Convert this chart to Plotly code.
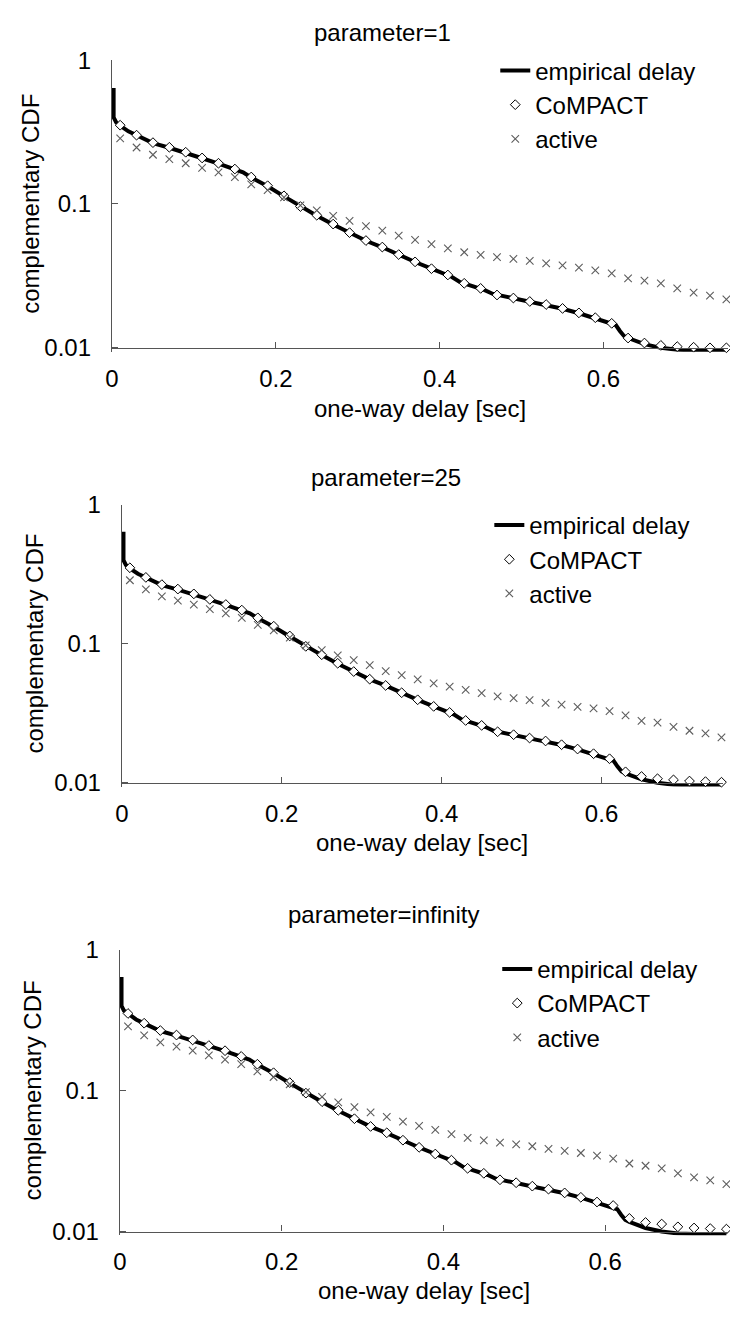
import math
import plotly.graph_objects as go

W, H = 730, 1325

# ---------------- data ----------------
panel_titles = ["parameter=1", "parameter=25", "parameter=infinity"]
series_names = ["empirical delay", "CoMPACT", "active"]
x_ticks = [0, 0.2, 0.4, 0.6]
x_tick_text = ["0", "0.2", "0.4", "0.6"]
y_ticks = [0.01, 0.1, 1]
y_tick_text = ["0.01", "0.1", "1"]

sample_x = [0.01, 0.03, 0.05, 0.07, 0.09, 0.11, 0.13, 0.15, 0.17, 0.19,
            0.21, 0.23, 0.25, 0.27, 0.29, 0.31, 0.33, 0.35, 0.37, 0.39,
            0.41, 0.43, 0.45, 0.47, 0.49, 0.51, 0.53, 0.55, 0.57, 0.59,
            0.61, 0.63, 0.65, 0.67, 0.69, 0.71, 0.73, 0.75]

compact_p1 = [0.353, 0.301, 0.267, 0.248, 0.229, 0.209, 0.192, 0.175, 0.154, 0.134,
              0.114, 0.096, 0.0835, 0.0725, 0.0632, 0.0557, 0.0502, 0.0445, 0.0396, 0.0355,
              0.0321, 0.0281, 0.0259, 0.0233, 0.0222, 0.0210, 0.0200, 0.0188, 0.0175, 0.0162,
              0.0148, 0.0117, 0.0108, 0.0104, 0.0102, 0.0101, 0.0100, 0.0100]
compact_p2 = [0.353, 0.301, 0.267, 0.248, 0.229, 0.209, 0.192, 0.175, 0.154, 0.134,
              0.114, 0.096, 0.0835, 0.0725, 0.0632, 0.0557, 0.0502, 0.0445, 0.0396, 0.0355,
              0.0321, 0.0281, 0.0259, 0.0233, 0.0222, 0.0210, 0.0200, 0.0188, 0.0175, 0.0162,
              0.0149, 0.0120, 0.0111, 0.0107, 0.0105, 0.0103, 0.0102, 0.0101]
compact_p3 = [0.353, 0.301, 0.267, 0.248, 0.229, 0.209, 0.192, 0.175, 0.154, 0.134,
              0.114, 0.096, 0.0835, 0.0725, 0.0632, 0.0557, 0.0502, 0.0445, 0.0396, 0.0355,
              0.0321, 0.0281, 0.0259, 0.0233, 0.0222, 0.0210, 0.0200, 0.0188, 0.0175, 0.0162,
              0.0153, 0.0124, 0.0116, 0.0113, 0.0108, 0.0106, 0.0105, 0.0104]

active_p1 = [0.286, 0.247, 0.220, 0.205, 0.192, 0.178, 0.166, 0.154, 0.137, 0.125,
             0.111, 0.0977, 0.0903, 0.0826, 0.0763, 0.0702, 0.0652, 0.0603, 0.0563, 0.0526,
             0.0491, 0.0462, 0.0443, 0.0427, 0.0416, 0.0403, 0.0386, 0.0374, 0.0361, 0.0346,
             0.0329, 0.0304, 0.0293, 0.0281, 0.0259, 0.0242, 0.0231, 0.0217]
active_p2 = [0.287, 0.247, 0.220, 0.205, 0.192, 0.178, 0.166, 0.154, 0.137, 0.125,
             0.111, 0.0977, 0.0903, 0.0826, 0.0763, 0.0702, 0.0636, 0.0596, 0.0555, 0.0520,
             0.0493, 0.0467, 0.0442, 0.0419, 0.0407, 0.0394, 0.0376, 0.0366, 0.0352, 0.0343,
             0.0328, 0.0306, 0.0279, 0.0271, 0.0253, 0.0237, 0.0227, 0.0212]
active_p3 = [0.286, 0.247, 0.220, 0.205, 0.192, 0.178, 0.166, 0.154, 0.137, 0.125,
             0.111, 0.0977, 0.0903, 0.0826, 0.0763, 0.0702, 0.0652, 0.0603, 0.0563, 0.0526,
             0.0491, 0.0462, 0.0443, 0.0427, 0.0416, 0.0403, 0.0386, 0.0374, 0.0361, 0.0346,
             0.0329, 0.0304, 0.0293, 0.0281, 0.0259, 0.0242, 0.0231, 0.0217]

emp_x = [0.002, 0.002, 0.005, 0.01, 0.02, 0.03, 0.05, 0.07, 0.09, 0.11,
         0.13, 0.15, 0.16, 0.17, 0.19, 0.21, 0.23, 0.25, 0.27, 0.29,
         0.31, 0.33, 0.35, 0.37, 0.39, 0.41, 0.415, 0.425, 0.43, 0.45,
         0.455, 0.465, 0.47, 0.49, 0.51, 0.53, 0.55, 0.57, 0.59, 0.61,
         0.615, 0.62, 0.625, 0.63, 0.65, 0.67, 0.69, 0.71, 0.73, 0.75]
emp_y = [0.64, 0.40, 0.37, 0.35, 0.32, 0.30, 0.265, 0.246, 0.228, 0.208,
         0.191, 0.175, 0.166, 0.153, 0.133, 0.113, 0.096, 0.083, 0.072, 0.063,
         0.0555, 0.050, 0.0443, 0.0395, 0.0355, 0.032, 0.0311, 0.0286, 0.028, 0.0258,
         0.0252, 0.0237, 0.0233, 0.0221, 0.0209, 0.0199, 0.0187, 0.0174, 0.0161, 0.0148,
         0.0144, 0.0131, 0.0121, 0.0117, 0.0106, 0.0100, 0.0097, 0.0096, 0.0095, 0.0095]

compact_sets = [compact_p1, compact_p2, compact_p3]
active_sets = [active_p1, active_p2, active_p3]

# ---------------- layout geometry (pixels) ----------------
panels = [
    dict(left=106, right=728, top=47, y001=340, title_xy=(379, 19), ylab_x=24, xlab_y=402, legend=(493, 35)),
    dict(left=116, right=723, top=500, y001=783, title_xy=(383, 472), ylab_x=28, xlab_y=844, legend=(487, 498)),
    dict(left=114, right=728, top=953, y001=1240, title_xy=(380, 917), ylab_x=26, xlab_y=1300, legend=(495, 950)),
]

FONT = "Liberation Sans, Arial, Helvetica, sans-serif"
AXIS_COLOR = "#555555"
CROSS_COLOR = "#5e5e5e"
Y_LOW = 0.0094
X_MAX = 0.752


def py(p):
    return 1 - p / H


def px(p):
    return p / W


fig = go.Figure()
layout = dict(
    width=W, height=H,
    margin=dict(l=0, r=0, t=0, b=0),
    paper_bgcolor="white", plot_bgcolor="white",
    font=dict(family=FONT, size=24, color="black"),
    showlegend=True,
)
annotations = []

for i, p in enumerate(panels):
    n = "" if i == 0 else str(i + 1)
    xa, ya = "x" + n, "y" + n
    leg = "legend" + n
    decade = (p["y001"] - p["top"]) / 2.0
    bottom = p["y001"] + decade * (-math.log10(Y_LOW) - 2)

    fig.add_trace(go.Scatter(x=emp_x, y=emp_y, mode="lines", name=series_names[0],
                             line=dict(color="black", width=4), xaxis=xa, yaxis=ya, legend=leg))
    fig.add_trace(go.Scatter(x=sample_x, y=compact_sets[i], mode="markers", name=series_names[1],
                             marker=dict(symbol="diamond", size=7.5, color="white",
                                         line=dict(color="black", width=1)),
                             cliponaxis=False, xaxis=xa, yaxis=ya, legend=leg))
    fig.add_trace(go.Scatter(x=sample_x, y=active_sets[i], mode="markers", name=series_names[2],
                             marker=dict(symbol="x-thin-open", size=7.5, color=CROSS_COLOR,
                                         line=dict(color=CROSS_COLOR, width=1.1)),
                             cliponaxis=False, xaxis=xa, yaxis=ya, legend=leg))

    layout["xaxis" + n] = dict(
        domain=[px(p["left"]), px(p["right"])], range=[0, X_MAX],
        anchor="free", position=py(p["y001"]),
        tickvals=x_ticks, ticktext=x_tick_text, ticks="inside", ticklen=6,
        tickcolor=AXIS_COLOR, tickwidth=1, showline=True, linecolor=AXIS_COLOR, linewidth=1.3,
        showgrid=False, zeroline=False, ticklabelstandoff=9,
        tickfont=dict(family=FONT, size=24, color="black"),
    )
    layout["yaxis" + n] = dict(
        domain=[py(bottom), py(p["top"])], type="log",
        range=[math.log10(Y_LOW), 0], anchor=xa,
        tickvals=y_ticks, ticktext=y_tick_text, ticks="inside", ticklen=6,
        tickcolor=AXIS_COLOR, tickwidth=1, showline=True, linecolor=AXIS_COLOR, linewidth=1.3,
        showgrid=False, zeroline=False, ticklabelstandoff=15,
        tickfont=dict(family=FONT, size=24, color="black"),
    )
    layout[leg] = dict(
        x=px(p["legend"][0]), xanchor="left", y=py(p["legend"][1]), yanchor="top",
        bgcolor="rgba(0,0,0,0)", borderwidth=0, tracegroupgap=0, itemwidth=30,
        font=dict(family=FONT, size=24, color="black"),
    )
    annotations.append(dict(text=panel_titles[i], x=px(p["title_xy"][0]), y=py(p["title_xy"][1]),
                            xref="paper", yref="paper", xanchor="center", yanchor="middle",
                            showarrow=False, font=dict(family=FONT, size=24, color="black")))
    annotations.append(dict(text="complementary CDF", x=px(p["ylab_x"]),
                            y=py((p["top"] + p["y001"]) / 2), textangle=-90,
                            xref="paper", yref="paper", xanchor="center", yanchor="middle",
                            showarrow=False, font=dict(family=FONT, size=24, color="black")))
    annotations.append(dict(text="one-way delay [sec]", x=px((p["left"] + p["right"]) / 2),
                            y=py(p["xlab_y"]),
                            xref="paper", yref="paper", xanchor="center", yanchor="middle",
                            showarrow=False, font=dict(family=FONT, size=24, color="black")))

layout["annotations"] = annotations
fig.update_layout(**layout)
fig.write_html("out.html")
